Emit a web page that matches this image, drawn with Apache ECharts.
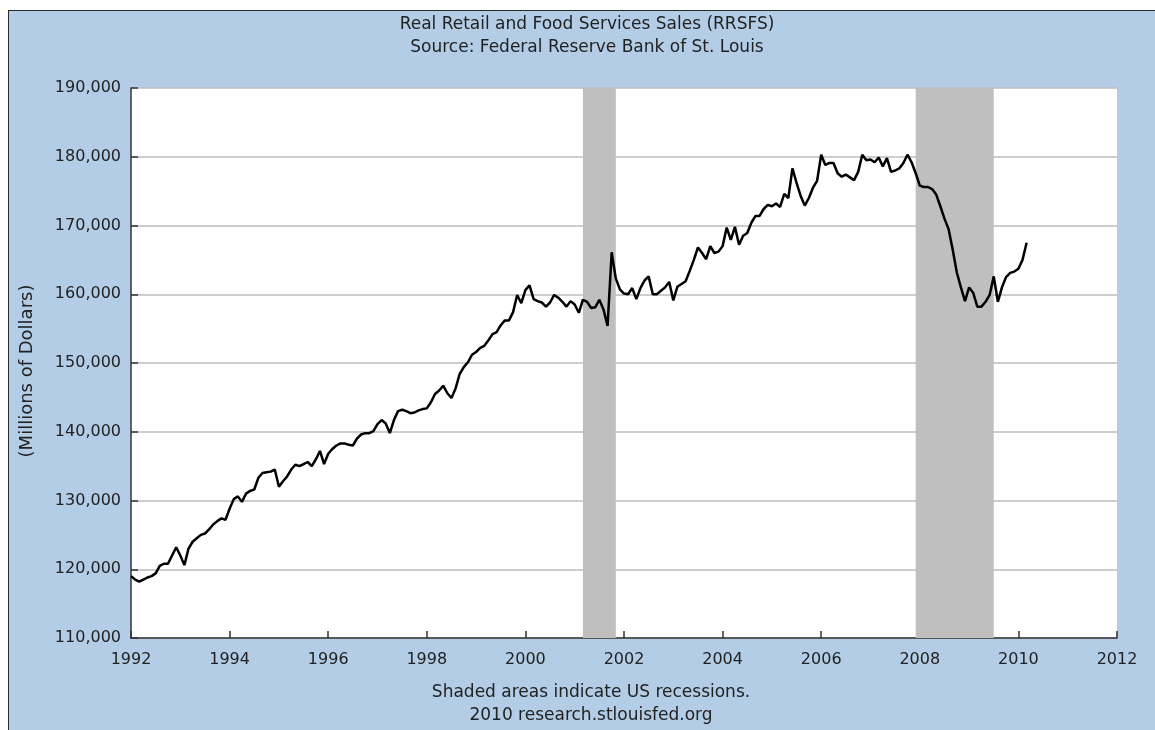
<!DOCTYPE html>
<html>
<head>
<meta charset="utf-8">
<script src="https://cdn.jsdelivr.net/npm/echarts@6/dist/echarts.min.js"></script>
<style>
  html, body { margin: 0; padding: 0; background: #ffffff; }
  #frame { position: absolute; left: 8px; top: 10px; width: 1160px; height: 740px;
           background: #b3cde6; border: 1.5px solid #2a2a2a; box-sizing: border-box; }
  #chart { position: absolute; left: 0; top: 0; width: 1155px; height: 730px; }
</style>
</head>
<body>
<div id="frame"></div>
<div id="chart"></div>
<script>
// ---- Data (millions of dollars), monthly values, Jan..Dec ----
const years = [1992, 1993, 1994, 1995, 1996, 1997, 1998, 1999, 2000, 2001,
               2002, 2003, 2004, 2005, 2006, 2007, 2008, 2009, 2010];
const sales1992 = [119000, 118500, 118200, 118500, 118800, 119000, 119400, 120500, 120800, 120800, 122000, 123200];
const sales1993 = [122000, 120600, 123000, 124000, 124500, 125000, 125200, 125800, 126500, 127000, 127400, 127200];
const sales1994 = [128800, 130200, 130600, 129800, 131000, 131400, 131600, 133300, 134000, 134100, 134200, 134500];
const sales1995 = [132000, 132800, 133500, 134500, 135200, 135000, 135300, 135600, 135000, 136000, 137200, 135300];
const sales1996 = [136800, 137500, 138000, 138300, 138300, 138100, 138000, 139000, 139600, 139800, 139800, 140100];
const sales1997 = [141100, 141700, 141200, 139800, 141700, 143000, 143200, 143000, 142700, 142800, 143100, 143300];
const sales1998 = [143400, 144300, 145500, 146000, 146700, 145600, 144900, 146300, 148400, 149400, 150100, 151200];
const sales1999 = [151600, 152200, 152500, 153300, 154200, 154500, 155500, 156200, 156200, 157400, 159900, 158700];
const sales2000 = [160600, 161300, 159300, 159000, 158800, 158200, 158800, 159900, 159500, 158900, 158200, 159000];
const sales2001 = [158500, 157300, 159200, 158900, 158000, 158100, 159200, 157800, 155400, 166100, 162300, 160700];
const sales2002 = [160100, 160000, 160900, 159300, 160900, 162000, 162600, 160000, 160000, 160500, 161000, 161800];
const sales2003 = [159100, 161100, 161500, 161900, 163400, 165000, 166800, 166000, 165100, 167000, 166000, 166200];
const sales2004 = [167000, 169700, 167900, 169800, 167200, 168500, 168900, 170400, 171400, 171400, 172400, 173000];
const sales2005 = [172800, 173200, 172700, 174600, 174000, 178300, 176200, 174300, 172900, 174000, 175500, 176500];
const sales2006 = [180300, 178800, 179100, 179100, 177600, 177100, 177400, 177000, 176600, 177800, 180300, 179500];
const sales2007 = [179600, 179200, 179900, 178600, 179800, 177800, 178000, 178300, 179100, 180300, 179200, 177600];
const sales2008 = [175800, 175600, 175600, 175300, 174500, 172800, 171000, 169500, 166500, 163200, 161000, 159000];
const sales2009 = [161000, 160200, 158200, 158200, 158900, 159900, 162600, 158900, 161000, 162500, 163100, 163300];
const sales2010 = [163700, 165000, 167500];
const salesByYear = [sales1992, sales1993, sales1994, sales1995, sales1996, sales1997, sales1998, sales1999,
                     sales2000, sales2001, sales2002, sales2003, sales2004, sales2005, sales2006, sales2007,
                     sales2008, sales2009, sales2010];

// Recessions: [startYear, startMonth, endYear, endMonth]
const recessions = [[2001, 3, 2001, 11], [2007, 12, 2009, 7]];

const xTicks = [1992, 1994, 1996, 1998, 2000, 2002, 2004, 2006, 2008, 2010, 2012];
const yTicks = [110000, 120000, 130000, 140000, 150000, 160000, 170000, 180000, 190000];

const titleLines = ['Real Retail and Food Services Sales (RRSFS)', 'Source: Federal Reserve Bank of St. Louis'];
const footLines = ['Shaded areas indicate US recessions.', '2010 research.stlouisfed.org'];
const yName = '(Millions of Dollars)';

// ---- Build series ----
const lineData = [];
years.forEach((yr, i) => {
  salesByYear[i].forEach((v, m) => lineData.push([yr + m / 12, v]));
});
const areas = recessions.map(r => [{ xAxis: r[0] + (r[1] - 1) / 12 }, { xAxis: r[2] + (r[3] - 1) / 12 }]);

const FONT = 'DejaVu Sans';
const TXT = '#222222';
const fmt = v => String(v).replace(/\B(?=(\d{3})+(?!\d))/g, ',');

const chart = echarts.init(document.getElementById('chart'), null, { renderer: 'canvas' });
chart.setOption({
  backgroundColor: 'transparent',
  animation: false,
  grid: { left: 131, right: 38, top: 88, bottom: 92, show: true, backgroundColor: '#ffffff', borderWidth: 0 },
  xAxis: {
    type: 'value', min: xTicks[0], max: xTicks[xTicks.length - 1], interval: 2,
    axisLine: { show: true, lineStyle: { color: '#333', width: 1.5 } },
    axisTick: { show: true, inside: true, length: 7, lineStyle: { color: '#333', width: 1.5 } },
    splitLine: { show: false },
    axisLabel: { color: TXT, fontFamily: FONT, fontSize: 16, margin: 14, formatter: v => String(v) }
  },
  yAxis: {
    type: 'value', min: yTicks[0], max: yTicks[yTicks.length - 1], interval: 10000,
    name: yName, nameLocation: 'middle', nameGap: 95, nameRotate: 90,
    nameTextStyle: { color: TXT, fontFamily: FONT, fontSize: 18, padding: [0, 16, 0, 0] },
    axisLine: { show: true, lineStyle: { color: '#333', width: 1.5 } },
    axisTick: { show: true, inside: true, length: 7, lineStyle: { color: '#333', width: 1.5 } },
    splitLine: { show: true, lineStyle: { color: '#bdbdbd', width: 1.5 } },
    axisLabel: { color: TXT, fontFamily: FONT, fontSize: 16, margin: 10, formatter: v => fmt(v) }
  },
  series: [{
    type: 'line', data: lineData, showSymbol: false, symbol: 'none',
    lineStyle: { color: '#000', width: 2.5 }, z: 5,
    markArea: { silent: true, itemStyle: { color: '#bfbfbf', opacity: 1 }, data: areas }
  }],
  graphic: [
    ...titleLines.map((t, i) => ({
      type: 'text', x: 587, y: 25 + i * 23, silent: true,
      style: { text: t, fill: TXT, font: '17px "DejaVu Sans"', textAlign: 'center', textVerticalAlign: 'middle' }
    })),
    ...footLines.map((t, i) => ({
      type: 'text', x: 591, y: 693 + i * 23, silent: true,
      style: { text: t, fill: TXT, font: '17px "DejaVu Sans"', textAlign: 'center', textVerticalAlign: 'middle' }
    }))
  ]
});
</script>
</body>
</html>
